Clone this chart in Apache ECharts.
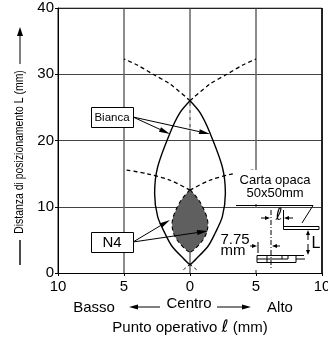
<!DOCTYPE html>
<html>
<head>
    <meta charset="utf-8">
    <script src="https://cdn.jsdelivr.net/npm/echarts@6/dist/echarts.min.js"></script>
</head>
<style>
    *{
        margin:0;
        padding:0;
    }
    #main{
        width:328px;
        height:338px;
        background:#fff;
    }
</style>
<body>
<div id="main"></div>
<script type="text/javascript">
    var font = '"Liberation Sans", Arial, sans-serif';

    // punti: [x, L]
    var biancaRight = [[0,26],[0.76,24.2],[1.5,21.2],[2.45,16],[2.68,12],[2.45,8.5],[1.9,6],[1.35,4],[0.4,2],[0,1.2]];
    var biancaLeft = [[0,26],[-0.76,24.2],[-1.5,21.2],[-2.45,16],[-2.68,12],[-2.45,8.5],[-1.9,6],[-1.35,4],[-0.4,2],[0,1.2]];
    var upperRight = [[0,26],[1.5,28.5],[2.8,30],[4,31.4],[5,32.3]];
    var upperLeft = [[0,26],[-1.5,28.5],[-2.8,30],[-4,31.4],[-5,32.3]];
    var lowerRight = [[0,12.5],[1.5,14],[3.3,15],[5,15.6]];
    var lowerLeft = [[0,12.5],[-1.5,14],[-3.3,15],[-5,15.6]];
    var centerDash = [[0,25.2],[0,21]];
    var n4Right = [[0,12.6],[0.35,11.8],[0.7,10.9],[1.05,9.6],[1.28,8.4],[1.36,7.4],[1.28,6.2],[1.05,5.2],[0.7,4.3],[0.3,3.5],[0,3.1]];
    var n4Left = [[0,12.6],[-0.35,11.8],[-0.7,10.9],[-1.05,9.6],[-1.28,8.4],[-1.36,7.4],[-1.28,6.2],[-1.05,5.2],[-0.7,4.3],[-0.3,3.5],[0,3.1]];
    var crossA = [[-0.5,2.1],[0.5,0.5]];
    var crossB = [[0.5,2.1],[-0.5,0.5]];
    var frameRight = [[10,0],[10,40]];
    var frameTop = [[-10,40],[10,40]];

    function solid(data){
        return {type:'line',data:data,smooth:0.3,symbol:'none',silent:true,z:4,
            lineStyle:{color:'#000',width:1.4}};
    }
    function dashed(data,w,c){
        return {type:'line',data:data,smooth:0.3,symbol:'none',silent:true,z:5,
            lineStyle:{color:c||'#000',width:w||1.3,type:[4,3]}};
    }

    // linee e frecce delle annotazioni
    function ln(pts,w,dash){
        return {type:'polyline',z:20,shape:{points:pts},style:{stroke:'#000',lineWidth:w||1,fill:null,lineDash:dash||null}};
    }
    function arrow(x1,y1,x2,y2,len,wid){
        var a = Math.atan2(y2-y1,x2-x1);
        var bx = x2-Math.cos(a)*len, by = y2-Math.sin(a)*len;
        var nx = -Math.sin(a)*wid/2, ny = Math.cos(a)*wid/2;
        return [ln([[x1,y1],[bx,by]],1),
            {type:'polygon',z:20,shape:{points:[[x2,y2],[bx+nx,by+ny],[bx-nx,by-ny]]},style:{fill:'#000'}}];
    }
    function txt(x,y,s,size,align){
        return {type:'text',z:22,x:x,y:y,style:{text:s,font:size+'px '+font,fill:'#000',align:align||'center',verticalAlign:'middle'}};
    }
    function box(x,y,w,h){
        return {type:'rect',z:21,shape:{x:x+0.5,y:y+0.5,width:w,height:h},style:{fill:'#fff',stroke:'#000',lineWidth:1}};
    }

    var g = [];
    // etichette
    g.push(box(91,107,42,20), txt(112,118,'Bianca',11.5));
    g.push(box(91,232,42,20), txt(112,243,'N4',15));
    g = g.concat(arrow(133,117,210,134,11,5), arrow(133,117,170,134,11,5));
    g = g.concat(arrow(133,242,170,220,11,5), arrow(133,242,208,231,11,5));
    // carta opaca
    g.push({type:'rect',z:19,shape:{x:235,y:170,width:84,height:34},style:{fill:'#fff'}});
    g.push(txt(275,180,'Carta opaca',13), txt(275,193,'50x50mm',13));
    // schema
    g.push({type:'rect',z:19,shape:{x:232,y:208,width:89,height:62},style:{fill:'#fff'}});
    g.push(ln([[236,205.5],[313,205.5],[302,223]],1));
    g.push(txt(235,240,'7.75',15), txt(233,251,'mm',15));
    g.push({type:'text',z:22,x:279,y:216,style:{text:'ℓ',font:'italic 17px "DejaVu Sans"',fill:'#000',align:'center',verticalAlign:'middle'}});
    g.push(txt(316,244,'L',16));
    g.push({type:'rect',z:21,shape:{x:283.5,y:226.5,width:35.5,height:3},style:{fill:'#fff',stroke:'#000',lineWidth:1}});
    for (var i = 0; i < 11; i++) {
        g.push(ln([[284+i*3.2,229.5],[286.5+i*3.2,226.5]],1));
    }
    g.push(ln([[271,210],[271,268]],1,[5,2,1,2]));
    g.push(ln([[283.5,210],[283.5,227]],1));
    g.push(ln([[258,242],[258,253]],1));
    g.push(ln([[257,255.5],[304,255.5]],1), ln([[257,262.5],[296,262.5]],1));
    g.push(ln([[257,255.5],[257,262.5]],1), ln([[257,259],[282,259]],1));
    g.push(ln([[267,255.5],[267,262.5]],1), ln([[282,255.5],[282,259]],1));
    g.push(ln([[288,255.5],[288,259],[282,259]],1), ln([[296,255.5],[296,262.5]],1));
    g.push(ln([[296,259],[305,259]],1));
    g = g.concat(arrow(261,218,270,218,5,4), arrow(293,218,284,218,5,4));
    g = g.concat(arrow(250,246,257,246,5,4), arrow(280,246,272,246,5,4));
    g = g.concat(arrow(308,240,308,230,5,4), arrow(308,244,308,255,5,4));
    // sotto l'asse
    g.push(txt(94,308,'Basso',15), txt(189,304,'Centro',15), txt(280,308,'Alto',15));
    g = g.concat(arrow(160,307,129,307,9,5), arrow(217,307,251,307,9,5));
    // asse y
    g = g.concat(arrow(20,64,20,27,9,6));
    g.push(ln([[20,265],[20,240]],1.4));
    g.push({type:'text',z:22,x:20,y:152,rotation:Math.PI/2,scaleX:0.87,
        style:{text:'Distanza di posizionamento L (mm)',font:'12px '+font,fill:'#000',align:'center',verticalAlign:'middle'}});

    var dom = document.getElementById('main');
    var myChart = echarts.init(dom);

    var option = {
        animation:false,
        grid:{left:58,right:6,top:8,bottom:65,show:false,outerBoundsMode:'none'},
        xAxis:{
            type:'value',min:-10,max:10,interval:5,
            name:'Punto operativo {l|ℓ} (mm)',nameLocation:'middle',nameGap:46,
            nameTextStyle:{color:'#000',fontSize:15,fontFamily:font,
                rich:{l:{fontSize:17,fontStyle:'italic',fontFamily:'DejaVu Sans',color:'#000'}}},
            axisLine:{onZero:false,lineStyle:{color:'#000',width:1}},
            axisTick:{show:true,length:3,lineStyle:{color:'#000'}},
            axisLabel:{color:'#000',fontSize:15,fontFamily:font,margin:6,showMinLabel:true,showMaxLabel:true,
                formatter:function(v){return String(Math.abs(v));}},
            splitLine:{show:true,lineStyle:{color:'#666',width:1.5}}
        },
        yAxis:{
            type:'value',min:0,max:40,interval:10,
            axisLine:{show:true,onZero:false,lineStyle:{color:'#000',width:1}},
            axisTick:{show:true,length:3,lineStyle:{color:'#000'}},
            axisLabel:{color:'#000',fontSize:15,fontFamily:font,margin:4},
            splitLine:{show:true,lineStyle:{color:'#444',width:1}}
        },
        series:[
            {type:'custom',silent:true,z:3,data:[0],
                renderItem:function(params,api){
                    var pts = n4Right.concat(n4Left.slice().reverse()).map(function(p){return api.coord(p);});
                    return {type:'polygon',shape:{points:pts},style:{fill:'#5f5f5f'}};
                }},
            dashed(n4Right,1.1),dashed(n4Left,1.1),
            solid(biancaRight),solid(biancaLeft),
            dashed(upperRight),dashed(upperLeft),
            dashed(lowerRight),dashed(lowerLeft),
            dashed(centerDash,1.3,'#fff'),
            dashed(crossA,1),dashed(crossB,1),
            {type:'line',data:frameRight,symbol:'none',silent:true,z:4,lineStyle:{color:'#000',width:1.5}},
            {type:'line',data:frameTop,symbol:'none',silent:true,z:4,lineStyle:{color:'#000',width:1}}
        ],
        graphic:g
    };

    myChart.setOption(option);
</script>
</body>
</html>
